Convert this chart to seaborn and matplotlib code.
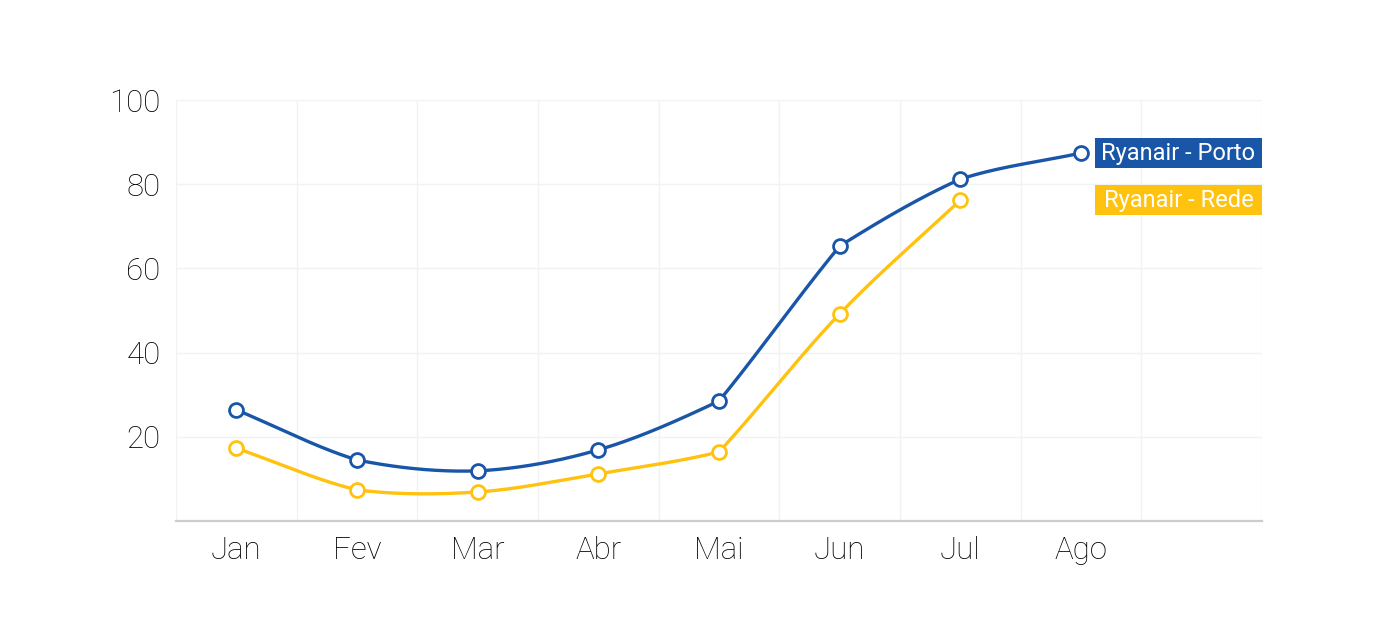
import numpy as np
import pandas as pd
import matplotlib
matplotlib.use("Agg")
import matplotlib.pyplot as plt
from matplotlib.patches import Rectangle
import seaborn as sns

months = ["Jan", "Fev", "Mar", "Abr", "Mai", "Jun", "Jul", "Ago"]
porto = [26.4, 14.5, 11.9, 16.9, 28.5, 65.3, 81.2, 87.4]
rede = [17.3, 7.4, 6.9, 11.2, 16.4, 49.2, 76.2]
series_names = ["Ryanair - Porto", "Ryanair - Rede"]
colors = ["#1A56A8", "#FFC20E"]
yticks = [20, 40, 60, 80, 100]

sns.set_theme(style="white")
plt.rcParams["font.family"] = ["Roboto", "DejaVu Sans"]

fig = plt.figure(figsize=(13.78, 6.42), dpi=100)
ax = fig.add_axes([176 / 1378, 1 - 521 / 642, (1262 - 176) / 1378, (521 - 100) / 642])
ax.set_xlim(-0.5, len(months) + 0.5)
ax.set_ylim(0, 100)


def smooth_curve(xs, ys):
    """Piecewise cubic through the points; rounded where the slope changes
    gently, nearly angular where it changes sharply (as in the reference)."""
    xs = np.asarray(xs, float)
    ys = np.asarray(ys, float)
    n = len(xs)
    p0 = ax.transData.transform((0, 0))
    p1 = ax.transData.transform((1, 1))
    k = (p1[1] - p0[1]) / (p1[0] - p0[0])  # data slope -> pixel slope
    sec = np.diff(ys) / np.diff(xs)
    left_t = np.zeros(n)
    right_t = np.zeros(n)
    left_t[0] = right_t[0] = sec[0]
    left_t[-1] = right_t[-1] = sec[-1]
    for i in range(1, n - 1):
        cr = (ys[i + 1] - ys[i - 1]) / (xs[i + 1] - xs[i - 1])
        d = abs(sec[i] - sec[i - 1]) * k
        w = 1.0 if d == 0 else min(1.0, 0.25 / d) ** 1.5
        left_t[i] = sec[i - 1] + w * (cr - sec[i - 1])
        right_t[i] = sec[i] + w * (cr - sec[i])
    u = np.linspace(0, 1, 80)
    h00 = 2 * u ** 3 - 3 * u ** 2 + 1
    h10 = u ** 3 - 2 * u ** 2 + u
    h01 = -2 * u ** 3 + 3 * u ** 2
    h11 = u ** 3 - u ** 2
    cx, cy = [], []
    for i in range(n - 1):
        dx = xs[i + 1] - xs[i]
        cx.append(xs[i] + u * dx)
        cy.append(h00 * ys[i] + h10 * dx * right_t[i] + h01 * ys[i + 1] + h11 * dx * left_t[i + 1])
    return np.concatenate(cx), np.concatenate(cy)


for name, vals, col in zip(series_names, [porto, rede], colors):
    xs = np.arange(len(vals))
    cx, cy = smooth_curve(xs, vals)
    dfc = pd.DataFrame({"x": cx, "y": cy})
    sns.lineplot(data=dfc, x="x", y="y", ax=ax, color=col, lw=2.4, sort=False,
                 estimator=None, zorder=3)
    dfp = pd.DataFrame({"x": xs, "y": vals})
    sns.scatterplot(data=dfp, x="x", y="y", ax=ax, s=100, facecolor="white",
                    edgecolor=col, linewidth=2, zorder=4)

# grid
ax.set_xticks(np.arange(len(months)))
ax.set_xticklabels(months)
ax.set_xticks(np.arange(-0.5, len(months) + 1, 1), minor=True)
ax.set_yticks(yticks)
ax.grid(False)
ax.grid(True, which="minor", axis="x", color="#F2F2F2", lw=1)
for yv in yticks:
    ax.axhline(yv, color="#F2F2F2", lw=1, zorder=0)
ax.tick_params(axis="both", which="both", length=0, labelsize=22.5, labelcolor="#000000")
ax.tick_params(axis="x", pad=10.5)
ax.tick_params(axis="y", pad=11)
for lab in ax.get_xticklabels() + ax.get_yticklabels():
    lab.set_fontweight("light")
for s in ["top", "right", "left"]:
    ax.spines[s].set_visible(False)
ax.spines["bottom"].set_color("#CCCCCC")
ax.spines["bottom"].set_linewidth(1.6)
ax.set_xlabel("")
ax.set_ylabel("")

# series labels
x_left = 7.115
x_right = len(months) + 0.5
for name, vals, col in zip(series_names, [porto, rede], colors):
    yv = vals[-1]
    ax.add_patch(Rectangle((x_left, yv - 3.6), x_right - x_left, 7.2, facecolor=col,
                           edgecolor="none", zorder=5, clip_on=False))
    ax.text((x_left + x_right) / 2, yv, name, color="white", fontsize=17,
            ha="center", va="center", zorder=6)

fig.savefig("out.png", dpi=100)
